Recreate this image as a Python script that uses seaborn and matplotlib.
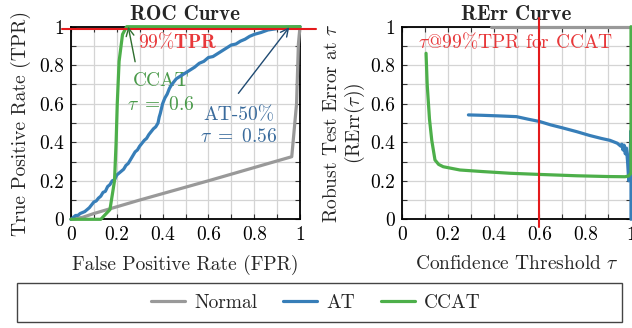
import numpy as np
import pandas as pd
import matplotlib
matplotlib.use("Agg")
import matplotlib.pyplot as plt
import matplotlib.patches as mpatches
from matplotlib.lines import Line2D
from matplotlib.ticker import MultipleLocator, FuncFormatter
import seaborn as sns

# ---------------- data ----------------
models = ["Normal", "AT", "CCAT"]
colors = {"Normal": "#999999", "AT": "#377eb8", "CCAT": "#4daf4a"}

# ROC curves (FPR, TPR)
normal_fpr = [0.0, 0.05, 0.1, 0.3, 0.6, 0.964, 0.985, 0.993, 1.0]
normal_tpr = [0.0, 0.01, 0.03, 0.1, 0.2, 0.325, 0.6, 0.91, 1.0]

at_fpr = [0.0, 0.01, 0.02, 0.03, 0.04, 0.05, 0.06, 0.07, 0.08, 0.09, 0.10,
          0.11, 0.12, 0.13, 0.14, 0.15, 0.16, 0.17, 0.18, 0.19, 0.20,
          0.21, 0.22, 0.23, 0.24, 0.25, 0.26, 0.27, 0.28, 0.29, 0.30,
          0.31, 0.32, 0.33, 0.34, 0.35, 0.36, 0.37, 0.38, 0.385, 0.39,
          0.40, 0.41, 0.42, 0.43, 0.44, 0.46, 0.48, 0.50, 0.52, 0.54, 0.56,
          0.58, 0.60, 0.62, 0.64, 0.66, 0.68, 0.70, 0.72, 0.74, 0.76, 0.78,
          0.80, 0.83, 0.86, 0.90, 0.94, 1.0]
at_tpr = [0.0, 0.01, 0.02, 0.02, 0.03, 0.035, 0.04, 0.05, 0.06, 0.075, 0.09,
          0.095, 0.11, 0.12, 0.14, 0.145, 0.17, 0.18, 0.20, 0.205, 0.23,
          0.24, 0.25, 0.26, 0.28, 0.29, 0.31, 0.33, 0.35, 0.36, 0.38,
          0.395, 0.41, 0.42, 0.44, 0.455, 0.47, 0.48, 0.50, 0.53, 0.55,
          0.60, 0.63, 0.65, 0.68, 0.70, 0.73, 0.745, 0.76, 0.775, 0.79, 0.81,
          0.82, 0.84, 0.845, 0.86, 0.875, 0.89, 0.905, 0.91, 0.925, 0.935, 0.95,
          0.96, 0.97, 0.983, 0.99, 0.997, 1.0]

ccat_fpr = [0.0, 0.13, 0.17, 0.19, 0.197, 0.202, 0.21, 0.225, 0.243, 1.0]
ccat_tpr = [0.0, 0.0, 0.05, 0.2, 0.4, 0.6, 0.82, 0.96, 1.0, 1.0]

# RErr curves (tau, RErr)
normal_tau = [0.39, 1.0]
normal_rerr = [1.0, 1.0]

at_tau = [0.29, 0.35, 0.42, 0.50, 0.55, 0.60, 0.65, 0.70, 0.763, 0.82, 0.87,
          0.908, 0.94, 0.955, 0.96, 0.965, 0.97, 0.975, 0.98, 0.985, 0.99,
          0.995, 1.0, 1.0]
at_rerr = [0.542, 0.540, 0.537, 0.533, 0.52, 0.508, 0.49, 0.475, 0.455, 0.435,
           0.42, 0.41, 0.395, 0.38, 0.39, 0.36, 0.385, 0.34, 0.37, 0.30, 0.20,
           0.30, 0.46, 0.0]

ccat_tau = [0.105, 0.11, 0.12, 0.13, 0.144, 0.16, 0.18, 0.253, 0.35, 0.472, 0.6,
            0.763, 0.9, 0.974, 0.99, 1.0, 1.0]
ccat_rerr = [0.862, 0.70, 0.52, 0.41, 0.308, 0.285, 0.273, 0.256, 0.248, 0.239,
             0.233, 0.226, 0.222, 0.221, 0.225, 0.24, 1.0]

TPR_TARGET = 0.99
TAU_CCAT = 0.6

roc = pd.concat([
    pd.DataFrame({"x": normal_fpr, "y": normal_tpr, "model": "Normal"}),
    pd.DataFrame({"x": at_fpr, "y": at_tpr, "model": "AT"}),
    pd.DataFrame({"x": ccat_fpr, "y": ccat_tpr, "model": "CCAT"}),
], ignore_index=True)
rerr = pd.concat([
    pd.DataFrame({"x": normal_tau, "y": normal_rerr, "model": "Normal"}),
    pd.DataFrame({"x": at_tau, "y": at_rerr, "model": "AT"}),
    pd.DataFrame({"x": ccat_tau, "y": ccat_rerr, "model": "CCAT"}),
], ignore_index=True)

# ---------------- style ----------------
sns.set_theme(style="ticks")
plt.rcParams["font.family"] = ["cmr10", "DejaVu Serif"]
plt.rcParams["mathtext.fontset"] = "cm"
plt.rcParams["axes.formatter.use_mathtext"] = True
plt.rcParams["font.size"] = 14

FS = 14
fig = plt.figure(figsize=(6.32, 3.28), dpi=100)
ax1 = fig.add_axes([71 / 632, 1 - 219.3 / 328, 229 / 632, 192.6 / 328])
ax2 = fig.add_axes([402 / 632, 1 - 219.3 / 328, 229 / 632, 192.6 / 328])

for ax, df in ((ax1, roc), (ax2, rerr)):
    sns.lineplot(data=df, x="x", y="y", hue="model", hue_order=models,
                 palette=colors, sort=False, estimator=None, ax=ax,
                 linewidth=2.3, legend=False)
    for ln in ax.lines:
        ln.set_clip_on(False)
        ln.set_zorder(3)
        ln.set_solid_joinstyle("round")
    ax.set_xlim(0, 1)
    ax.set_ylim(0, 1)
    ax.xaxis.set_major_locator(MultipleLocator(0.2))
    ax.yaxis.set_major_locator(MultipleLocator(0.2))
    ax.xaxis.set_minor_locator(MultipleLocator(0.1))
    ax.yaxis.set_minor_locator(MultipleLocator(0.1))
    fmt = FuncFormatter(lambda v, p: f"{v:g}")
    ax.xaxis.set_major_formatter(fmt)
    ax.yaxis.set_major_formatter(fmt)
    ax.grid(True, which="both", color="#d4d4d4", linewidth=0.9, zorder=0)
    ax.set_axisbelow(True)
    ax.tick_params(which="both", direction="in", top=True, right=True,
                   colors="#333333", labelcolor="black", width=0.8)
    ax.tick_params(which="major", length=3.5, labelsize=FS, pad=5)
    ax.tick_params(which="minor", length=3.5)
    for sp in ax.spines.values():
        sp.set_color("black")
        sp.set_linewidth(1.3)
    ax.set_xlabel("")
    ax.set_ylabel("")

# ---------- ROC panel ----------
ax1.set_title("ROC Curve", fontfamily="cmb10", fontsize=15, pad=5)
ax1.set_xlabel("False Positive Rate (FPR)", fontsize=FS, labelpad=8)
ax1.set_ylabel("True Positive Rate (TPR)", fontsize=FS, labelpad=6)
ax1.axhline(TPR_TARGET, xmin=-0.04, xmax=1.07, color="#e41a1c", lw=1.5,
            clip_on=False, zorder=4)
ax1.text(0.293, 0.922, r"99%$\mathbf{TPR}$", color="#e8383a", fontsize=FS,
         ha="left", va="center", zorder=2)
ax1.annotate("", xy=(0.25, 1.0), xytext=(0.28, 0.818),
             arrowprops=dict(arrowstyle="->", color="#2e6e2e", lw=1.0,
                             shrinkA=0, shrinkB=0), zorder=5)
ax1.text(0.395, 0.718, "CCAT", color="#4a9a4a", fontsize=FS,
         ha="center", va="center", zorder=2)
ax1.text(0.395, 0.593, r"$\tau\ =\ 0.6$", color="#4a9a4a", fontsize=FS,
         ha="center", va="center", zorder=2)
ax1.annotate("", xy=(0.953, 0.997), xytext=(0.731, 0.654),
             arrowprops=dict(arrowstyle="->", color="#1f4a72", lw=1.0,
                             shrinkA=0, shrinkB=0), zorder=5)
ax1.text(0.731, 0.541, "AT-50%", color="#3a6b9c", fontsize=FS,
         ha="center", va="center", zorder=2)
ax1.text(0.731, 0.429, r"$\tau\ =\ 0.56$", color="#3a6b9c", fontsize=FS,
         ha="center", va="center", zorder=2)

# ---------- RErr panel ----------
ax2.set_title("RErr Curve", fontfamily="cmb10", fontsize=15, pad=5)
ax2.set_xlabel(r"Confidence Threshold $\tau$", fontsize=FS, labelpad=8)
ax2.set_ylabel("Robust Test Error at $\\tau$\n(RErr($\\tau$))", fontsize=FS,
               labelpad=2, linespacing=1.1)
ax2.axvline(TAU_CCAT, ymin=-0.04, ymax=1.045, color="#e41a1c", lw=1.5,
            clip_on=False, zorder=4)
ax2.text(0.498, 0.922, r"$\tau$@99%TPR for CCAT", color="#e8383a",
         fontsize=FS, ha="center", va="center", zorder=2)

# ---------- legend ----------
box = mpatches.Rectangle((17 / 632, 1 - 322 / 328), 605 / 632, 39 / 328,
                         transform=fig.transFigure, facecolor="white",
                         edgecolor="#444444", linewidth=1.0)
fig.patches.append(box)
handles = [Line2D([0], [0], color=colors[m], lw=2.3) for m in models]
fig.legend(handles, models, loc="center", bbox_to_anchor=(0.5, 1 - 303 / 328),
           ncol=3, frameon=False, fontsize=FS, handlelength=1.75,
           handletextpad=0.46, columnspacing=1.34)

fig.savefig("out.png", dpi=100)
